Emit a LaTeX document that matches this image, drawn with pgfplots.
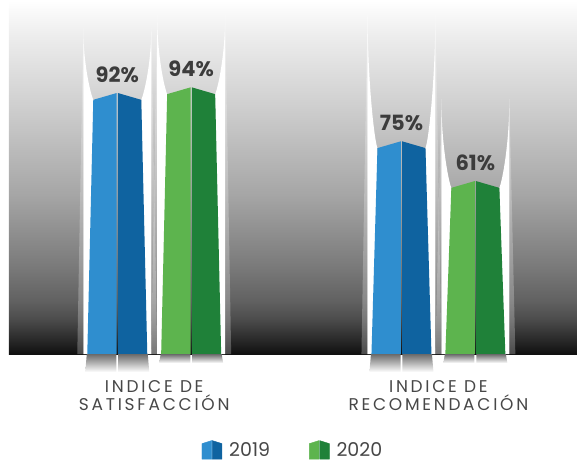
\documentclass[border=0pt]{standalone}
\usepackage{pgfplots}
\pgfplotsset{compat=1.18}
\usepackage{pgfplotstable}
\usepackage{fontspec}
\setmainfont{Poppins}

\definecolor{blueL}{HTML}{2F8ECF}
\definecolor{blueD}{HTML}{0F63A0}
\definecolor{greenL}{HTML}{5DB44E}
\definecolor{greenD}{HTML}{1F8139}
\definecolor{txt}{HTML}{474747}

% plot area: white at the top, black at the bottom
\pgfdeclareverticalshading{bgshade}{100bp}{color(0bp)=(black!94); color(25bp)=(black!94);
  color(27bp)=(black!84); color(30bp)=(black!70); color(32.5bp)=(black!62);
  color(37.5bp)=(black!52); color(47.5bp)=(black!35); color(60bp)=(black!19);
  color(70bp)=(black!7); color(75bp)=(white); color(100bp)=(white)}
% mirror under each bar
\pgfdeclareverticalshading{refl}{100bp}{color(0bp)=(white); color(25bp)=(white);
  color(75bp)=(black!58); color(100bp)=(black!58)}

% x: position of the bar, y: percent, tip: height of the white spikes above the bar (pt)
\pgfplotstableread{
x     y   tip
0.870 92  65
1.870 75  133
}\dataA
\pgfplotstableread{
x     y   tip
1.130 94  72
2.130 61  82
}\dataB

\def\yu{2.84}% pt per percent point (354pt / 124.65)

\newcommand\spike[1]{%
  \pgfpathmoveto{\pgfpoint{#1*34pt}{\spkH pt}}%
  \pgfpathcurveto{\pgfpoint{#1*34pt}{0.45*\spkH pt}}{\pgfpoint{#1*27pt}{0pt}}{\pgfpoint{#1*24pt}{-7pt}}%
  \pgfpathlineto{\pgfpoint{#1*26pt}{-\barH pt}}%
  \pgfpathlineto{\pgfpoint{#1*34pt}{-\barH pt}}%
  \pgfpathclose}

% #1 light half, #2 dark half, #3 length of the mirror
\newcommand\drawbar[3]{%
  \pgfmathsetmacro\barH{\barV*\yu}%
  \pgfmathsetmacro\barR{\barH+#3}%
  \begin{pgfscope}
    \pgfsetfillcolor{white}\pgfsetfillopacity{0.25}%
    \pgfpathmoveto{\pgfpoint{-34pt}{\spkH pt}}\pgfpathlineto{\pgfpoint{-40pt}{-\barH pt}}%
    \pgfpathlineto{\pgfpoint{-34pt}{-\barH pt}}\pgfpathclose
    \pgfpathmoveto{\pgfpoint{34pt}{\spkH pt}}\pgfpathlineto{\pgfpoint{40pt}{-\barH pt}}%
    \pgfpathlineto{\pgfpoint{34pt}{-\barH pt}}\pgfpathclose
    \pgfusepath{fill}
  \end{pgfscope}
  \begin{pgfscope}
    \pgfsetfillcolor{white}%
    \spike{-1}\spike{1}%
    \pgfusepath{fill}
  \end{pgfscope}
  \begin{pgfscope}
    \pgfsetfillcolor{#1}%
    \pgfpathmoveto{\pgfpoint{-0.6pt}{-0.2pt}}\pgfpathlineto{\pgfpoint{-24pt}{-7pt}}%
    \pgfpathlineto{\pgfpoint{-30pt}{-\barH pt}}\pgfpathlineto{\pgfpoint{-0.6pt}{-\barH pt}}\pgfpathclose
    \pgfusepath{fill}
  \end{pgfscope}
  \begin{pgfscope}
    \pgfsetfillcolor{#2}%
    \pgfpathmoveto{\pgfpoint{0.6pt}{-0.2pt}}\pgfpathlineto{\pgfpoint{24pt}{-7pt}}%
    \pgfpathlineto{\pgfpoint{30pt}{-\barH pt}}\pgfpathlineto{\pgfpoint{0.6pt}{-\barH pt}}\pgfpathclose
    \pgfusepath{fill}
  \end{pgfscope}
  \begin{pgfscope}
    \pgfpathmoveto{\pgfpoint{-30.5pt}{-\barH pt}}\pgfpathlineto{\pgfpoint{-0.9pt}{-\barH pt}}%
    \pgfpathlineto{\pgfpoint{-0.9pt}{-\barR pt}}\pgfpathlineto{\pgfpoint{-32pt}{-\barR pt}}\pgfpathclose
    \pgfpathmoveto{\pgfpoint{30.5pt}{-\barH pt}}\pgfpathlineto{\pgfpoint{0.9pt}{-\barH pt}}%
    \pgfpathlineto{\pgfpoint{0.9pt}{-\barR pt}}\pgfpathlineto{\pgfpoint{32pt}{-\barR pt}}\pgfpathclose
    \pgfshadepath{refl}{0}\pgfusepath{}
  \end{pgfscope}}

\pgfdeclareplotmark{bar19}{\drawbar{blueL}{blueD}{18}}
\pgfdeclareplotmark{bar20}{\drawbar{greenL}{greenD}{9}}

\begin{document}
\begin{tikzpicture}
\begin{axis}[
  scale only axis, width=568pt, height=354pt,
  xmin=0.489, xmax=2.4877, ymin=0, ymax=124.65,
  clip=false,
  axis line style={draw=none},
  major tick length=0pt,
  ytick=\empty,
  xtick={1,2},
  xticklabels={{INDICE DE\\SATISFACCIÓN},{INDICE DE\\RECOMENDACIÓN}},
  xticklabel style={align=center, text=txt, yshift=-23pt,
    font=\fontsize{17}{17.4}\selectfont\addfontfeature{LetterSpace=16}},
  axis background/.style={shade, shading=bgshade},
  visualization depends on={y \as \barV},
  visualization depends on={\thisrow{tip} \as \spkH},
  nodes near coords={\pgfmathprintnumber[assume math mode=true]{\pgfplotspointmeta}\%},
  every node near coord/.append style={anchor=south, yshift=7pt, text=txt!85!black,
    font=\fontsize{21}{22}\selectfont\bfseries},
  legend style={at={(axis description cs:0.5,-0.305)}, anchor=south, draw=none, fill=none,
    legend columns=2, font=\fontsize{19}{20}\selectfont\color{txt},
    /tikz/every odd column/.append style={column sep=5pt},
    /tikz/every even column/.append style={column sep=37pt}},
]
\addplot[scatter, only marks, mark=bar19,
  legend image code/.code={
    \fill[blueL] (0pt,-9pt) -- (0pt,6.5pt) -- (9.6pt,9.5pt) -- (9.6pt,-9pt) -- cycle;
    \fill[blueD] (10.4pt,-9pt) -- (10.4pt,9.5pt) -- (20pt,6.5pt) -- (20pt,-9pt) -- cycle;}]
  table {\dataA};
\addplot[scatter, only marks, mark=bar20,
  legend image code/.code={
    \fill[greenL] (0pt,-9pt) -- (0pt,6.5pt) -- (9.6pt,9.5pt) -- (9.6pt,-9pt) -- cycle;
    \fill[greenD] (10.4pt,-9pt) -- (10.4pt,9.5pt) -- (20pt,6.5pt) -- (20pt,-9pt) -- cycle;}]
  table {\dataB};
\legend{2019,2020}
\end{axis}
\useasboundingbox ([xshift=-9pt,yshift=-108pt]current axis.south west) rectangle (current axis.north east);
\end{tikzpicture}
\end{document}
